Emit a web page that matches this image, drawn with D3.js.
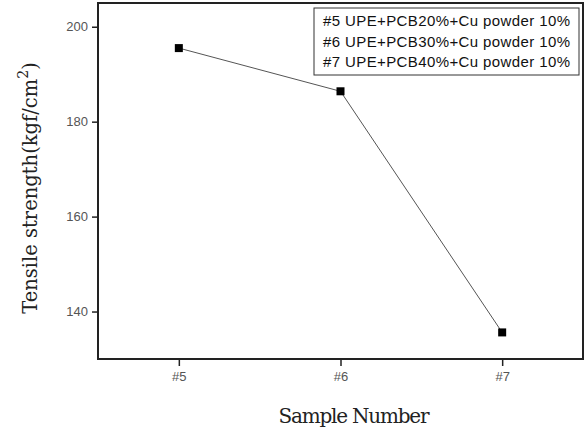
<!DOCTYPE html>
<html>
<head>
<meta charset="utf-8">
<script src="https://cdn.jsdelivr.net/npm/d3@7"></script>
<style>
  body { margin: 0; background: #fff; }
  svg { display: block; }
</style>
</head>
<body>
<div id="chart"></div>
<script>
// data
const samples = ['#5', '#6', '#7'];
const sampleNums = [5, 6, 7];
const tensile = [195.5, 186.4, 135.6];
const yTicks = [140, 160, 180, 200];
const legendLines = [
    '#5 UPE+PCB20%+Cu powder 10%',
    '#6 UPE+PCB30%+Cu powder 10%',
    '#7 UPE+PCB40%+Cu powder 10%'
];

const width = 584, height = 434;
const margin = { top: 3, right: 1, bottom: 75, left: 98 };
const plotW = width - margin.left - margin.right;
const plotH = height - margin.top - margin.bottom;

const svg = d3.select('#chart').append('svg')
    .attr('width', width)
    .attr('height', height);

const g = svg.append('g')
    .attr('transform', `translate(${margin.left},${margin.top})`);

const x = d3.scaleLinear().domain([4.5, 7.5]).range([0, plotW]);
const y = d3.scaleLinear().domain([130, 205]).range([plotH, 0]);

// y axis
const yAxis = g.append('g')
    .call(d3.axisLeft(y).tickValues(yTicks).tickSize(6).tickPadding(4));
yAxis.select('.domain').remove();
yAxis.selectAll('line').attr('stroke', '#222').attr('stroke-width', 1.5);
yAxis.selectAll('text')
    .style('font-family', '"Liberation Sans", Arial, sans-serif')
    .style('font-size', '13px')
    .attr('fill', '#555');

// x axis
const xAxis = g.append('g')
    .attr('transform', `translate(0,${plotH})`)
    .call(d3.axisBottom(x).tickValues(sampleNums).tickFormat((d, i) => samples[i]).tickSize(7).tickPadding(6));
xAxis.select('.domain').remove();
xAxis.selectAll('line').attr('stroke', '#222').attr('stroke-width', 1.5);
xAxis.selectAll('text')
    .style('font-family', '"Liberation Sans", Arial, sans-serif')
    .style('font-size', '13px')
    .attr('fill', '#555');

// frame
g.append('rect')
    .attr('width', plotW)
    .attr('height', plotH)
    .attr('fill', 'none')
    .attr('stroke', '#222')
    .attr('stroke-width', 2);

// line + markers
const line = d3.line()
    .x((d, i) => x(sampleNums[i]))
    .y(d => y(d));

g.append('path')
    .datum(tensile)
    .attr('d', line)
    .attr('fill', 'none')
    .attr('stroke', '#555')
    .attr('stroke-width', 1);

g.selectAll('.pt')
    .data(tensile)
    .enter().append('rect')
    .attr('class', 'pt')
    .attr('x', (d, i) => x(sampleNums[i]) - 4)
    .attr('y', d => y(d) - 4)
    .attr('width', 8)
    .attr('height', 8)
    .attr('fill', '#000');

// legend
const legend = svg.append('g').attr('transform', 'translate(314,8)');
legend.append('rect')
    .attr('width', 265)
    .attr('height', 67)
    .attr('fill', '#fff')
    .attr('stroke', '#333')
    .attr('stroke-width', 1);
legend.selectAll('text')
    .data(legendLines)
    .enter().append('text')
    .attr('x', 9)
    .attr('y', (d, i) => 18 + i * 20.5)
    .attr('textLength', 247)
    .attr('lengthAdjust', 'spacing')
    .style('font-family', '"Liberation Sans", Arial, sans-serif')
    .style('font-size', '15px')
    .attr('fill', '#111')
    .text(d => d);

// axis titles
svg.append('text')
    .attr('x', 354)
    .attr('y', 423)
    .attr('text-anchor', 'middle')
    .attr('textLength', 151)
    .style('font-family', '"DejaVu Serif", "Liberation Serif", serif')
    .style('font-size', '20px')
    .attr('fill', '#222')
    .text('Sample Number');

const yTitle = svg.append('text')
    .attr('transform', 'translate(37,188) rotate(-90)')
    .attr('text-anchor', 'middle')
    .style('font-family', '"DejaVu Serif", "Liberation Serif", serif')
    .style('font-size', '19.5px')
    .attr('fill', '#222');
yTitle.append('tspan').text('Tensile strength(kgf/cm');
yTitle.append('tspan').attr('dy', -9).style('font-size', '14px').text('2');
yTitle.append('tspan').attr('dy', 9).text(')');
</script>
</body>
</html>
